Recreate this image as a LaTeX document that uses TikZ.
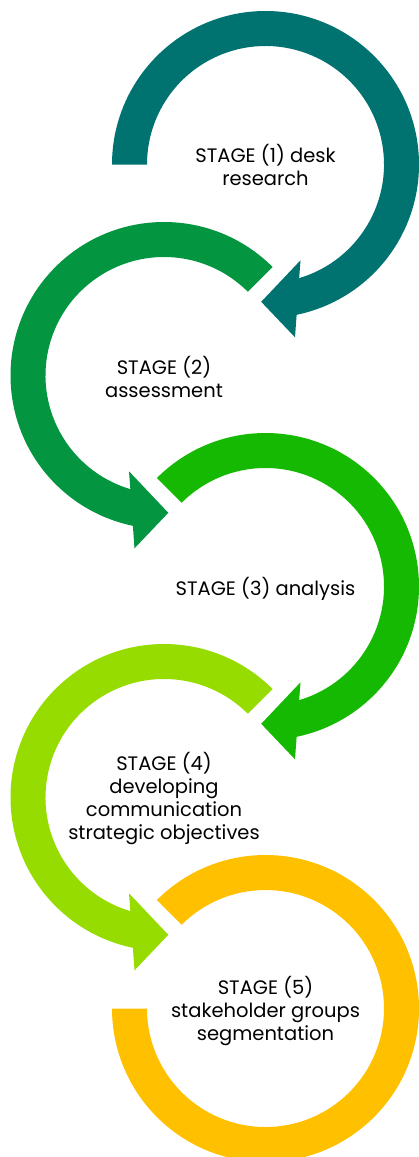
\documentclass[tikz,border=0pt]{standalone}
\usepackage{fontspec}
\setmainfont{Poppins}

\definecolor{stageA}{RGB}{0,115,112}
\definecolor{stageB}{RGB}{3,149,64}
\definecolor{stageC}{RGB}{22,185,2}
\definecolor{stageD}{RGB}{151,220,0}
\definecolor{stageE}{RGB}{255,192,0}

\tikzset{
  stagetext/.style={align=center, inner sep=0pt, text=black,
    font=\fontsize{19.5}{23}\selectfont},
}

% Ring arrow turning clockwise from a start angle, head at the bottom pointing left
% #1 centre, #2 start angle, #3 colour
\newcommand\cwRing[3]{%
  \fill[#3, shift={(#1)}]
    (#2:153.5) arc[start angle=#2, end angle=-78.3, radius=153.5]
    -- (29.5,-172.8) -- (-4.3,-137.3) -- (35,-95.8)
    -- (-73.5:118.5) arc[start angle=-73.5, end angle=#2, radius=118.5]
    -- cycle;}
% Ring arrow turning anticlockwise, head at the bottom pointing right
\newcommand\ccwRing[3]{%
  \fill[#3, shift={(#1)}]
    (#2:153.5) arc[start angle=#2, end angle=258.3, radius=153.5]
    -- (-29.5,-172.8) -- (4.3,-137.3) -- (-35,-95.8)
    -- (253.5:118.5) arc[start angle=253.5, end angle=#2, radius=118.5]
    -- cycle;}

\begin{document}
\begin{tikzpicture}[x=1pt, y=1pt]
  \useasboundingbox (0,0) rectangle (418,-1157);

  \coordinate (c1) at (265.5,-164.5);
  \coordinate (c2) at (164,-375.5);
  \coordinate (c3) at (265.5,-586.5);
  \coordinate (c4) at (164,-797.5);
  \coordinate (c5) at (265.5,-1008.5);

  % rings, top to bottom
  \cwRing{c1}{180}{stageA}
  \ccwRing{c2}{45}{stageB}
  \cwRing{c3}{135}{stageC}
  \ccwRing{c4}{45}{stageD}
  \fill[stageE, shift={(c5)}]
    (135:153.5) arc[start angle=135, end angle=-180, radius=153.5]
    -- (-180:118.5) arc[start angle=-180, end angle=135, radius=118.5]
    -- cycle;

  % stage captions
  \node[stagetext] (t1) at ([yshift=-0.5pt]c1) {STAGE (1) desk\\research};
  \node[stagetext] (t2) at ([yshift=-1pt]c2) {STAGE (2)\\assessment};
  \node[stagetext] (t3) at ([yshift=-2.5pt]c3) {STAGE (3) analysis};
  \node[stagetext] (t4) at ([yshift=-1pt]c4) {STAGE (4)\\developing\\communication\\strategic objectives};
  \node[stagetext] (t5) at ([yshift=-3pt]c5) {STAGE (5)\\stakeholder groups\\segmentation};
\end{tikzpicture}
\end{document}
